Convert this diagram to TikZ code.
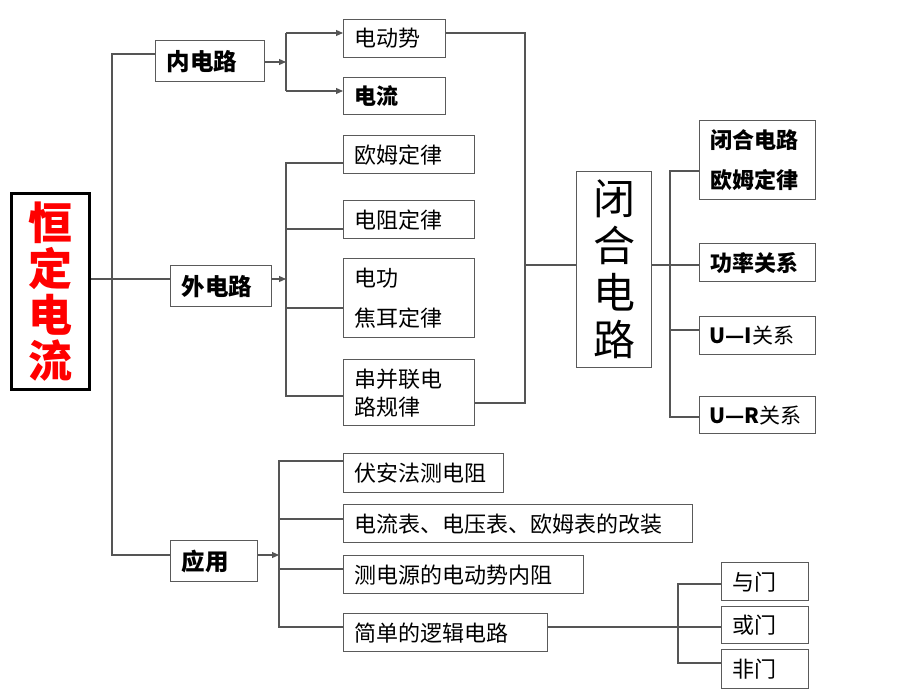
\documentclass[tikz,border=0pt]{standalone}
\usepackage{fontspec}
\setmainfont{Noto Sans CJK SC}
\usetikzlibrary{arrows.meta}
\definecolor{boxgray}{HTML}{5A5A5A}
\definecolor{linegray}{HTML}{555555}
\definecolor{titlered}{HTML}{FF0000}
\begin{document}
\begin{tikzpicture}[x=1pt,y=-1pt,
  box/.style={draw=boxgray, line width=1.3pt, anchor=north west, inner xsep=11pt, inner ysep=0pt, align=left, font=\fontsize{22}{26}\selectfont},
  ln/.style={draw=linegray, line width=1.1pt},
  arr/.style={ln, -{Triangle[length=7pt,width=6pt]}}]
\useasboundingbox (0,0) rectangle (920,690);

% main title box
\node[draw=black, line width=3pt, anchor=north west, minimum width=78pt, minimum height=196pt, inner sep=0pt, align=center, text=titlered, font=\fontsize{44}{46}\selectfont\bfseries] (main) at (10,192) {恒\\定\\电\\流};

% level 1
\node[box, minimum width=109pt, minimum height=41pt, text width=87pt, font=\fontsize{23.5}{26}\selectfont\bfseries] (nei) at (155,40) {内电路};
\node[box, minimum width=101pt, minimum height=41pt, text width=79pt, font=\fontsize{23.5}{26}\selectfont\bfseries] (wai) at (170,265) {外电路};
\node[box, minimum width=87pt, minimum height=41pt, text width=65pt, font=\fontsize{23.5}{26}\selectfont\bfseries] (ying) at (170,540) {应用};

% inner circuit
\node[box, minimum width=102pt, minimum height=38pt, text width=80pt] (ddh) at (343,19) {电动势};
\node[box, minimum width=102pt, minimum height=37pt, text width=80pt, font=\fontsize{22}{26}\selectfont\bfseries] (dl) at (343,77) {电流};

% outer circuit
\node[box, minimum width=131pt, minimum height=38pt, text width=109pt] (om) at (343,135) {欧姆定律};
\node[box, minimum width=131pt, minimum height=38pt, text width=109pt] (dz) at (343,200) {电阻定律};
\node[box, minimum width=131pt, minimum height=79pt, text width=109pt, font=\fontsize{22}{40}\selectfont] (dg) at (343,258) {电功\\焦耳定律};
\node[box, minimum width=131pt, minimum height=66pt, text width=109pt, font=\fontsize{22}{28}\selectfont] (cb) at (343,359) {串并联电\\路规律};

% closed circuit
\node[draw=boxgray, line width=1.3pt, anchor=north west, minimum width=75pt, minimum height=196pt, inner sep=0pt, align=center, font=\fontsize{42}{47}\selectfont] (bh) at (576,171) {闭\\合\\电\\路};

\node[box, minimum width=116pt, minimum height=79pt, text width=94pt, font=\fontsize{22}{40}\selectfont\bfseries] (bo) at (699,120) {闭合电路\\欧姆定律};
\node[box, minimum width=116pt, minimum height=38pt, text width=94pt, font=\fontsize{22}{26}\selectfont\bfseries] (gl) at (699,243) {功率关系};
\node[box, minimum width=116pt, minimum height=38pt, text width=104pt, inner xsep=6pt, font=\fontsize{21}{26}\selectfont] (ui) at (699,316) {\hspace{4pt}\mbox{\textbf{U—I}关系}};
\node[box, minimum width=116pt, minimum height=37pt, text width=104pt, inner xsep=6pt, font=\fontsize{21}{26}\selectfont] (ur) at (699,396) {\hspace{4pt}\mbox{\textbf{U—R}关系}};

% applications
\node[box, minimum width=160pt, minimum height=39pt, text width=138pt] (fa) at (343,453) {伏安法测电阻};
\node[box, minimum width=349pt, minimum height=38pt, text width=327pt] (dlb) at (343,504) {电流表、电压表、欧姆表的改装};
\node[box, minimum width=240pt, minimum height=38pt, text width=218pt] (cd) at (343,555) {测电源的电动势内阻};
\node[box, minimum width=204pt, minimum height=38pt, text width=182pt] (jd) at (343,613) {简单的逻辑电路};

\node[box, minimum width=87pt, minimum height=38pt, text width=65pt] (ym) at (721,562) {与门};
\node[box, minimum width=87pt, minimum height=37pt, text width=65pt] (hm) at (721,606) {或门};
\node[box, minimum width=87pt, minimum height=39pt, text width=65pt] (fm) at (721,649) {非门};

% junction coordinates
\coordinate (tn) at (112,54);
\coordinate (tw) at (112,279);
\coordinate (ty) at (112,555);
\coordinate (bn) at (286,62);
\coordinate (bn1) at (286,33);
\coordinate (bn2) at (286,91);
\coordinate (bw) at (286,279);
\coordinate (bw1) at (286,163);
\coordinate (bw2) at (286,229);
\coordinate (bw3) at (286,308);
\coordinate (bw4) at (286,396);
\coordinate (rb1) at (525,33);
\coordinate (rb2) at (525,403);
\coordinate (rbm) at (525,265);
\coordinate (cj) at (670,265);
\coordinate (cj1) at (670,171);
\coordinate (cj3) at (670,330);
\coordinate (cj4) at (670,417);
\coordinate (ay) at (279,555);
\coordinate (ay1) at (279,461);
\coordinate (ay2) at (279,519);
\coordinate (ay3) at (279,569);
\coordinate (ay4) at (279,627);
\coordinate (lg) at (678,627);
\coordinate (lg1) at (678,584);
\coordinate (lg3) at (678,663);

% trunk
\draw[ln] (main.east |- tw) -- (wai.west |- tw);
\draw[ln] (nei.west |- tn) -- (tn) -- (ty) -- (ying.west |- ty);

% inner circuit branch
\draw[arr] (nei.east |- bn) -- (bn);
\draw[ln] (bn1) -- (bn2);
\draw[arr] (bn1) -- (ddh.west |- bn1);
\draw[arr] (bn2) -- (dl.west |- bn2);

% outer circuit branch
\draw[arr] (wai.east |- bw) -- (bw);
\draw[ln] (om.west |- bw1) -- (bw1) -- (bw4) -- (cb.west |- bw4);
\draw[ln] (bw2) -- (dz.west |- bw2);
\draw[ln] (bw3) -- (dg.west |- bw3);

% right bracket into closed circuit
\draw[ln] (ddh.east |- rb1) -- (rb1) -- (rb2) -- (cb.east |- rb2);
\draw[ln] (rbm) -- (bh.west |- rbm);

% closed circuit branches
\draw[ln] (bh.east |- cj) -- (gl.west |- cj);
\draw[ln] (bo.west |- cj1) -- (cj1) -- (cj4) -- (ur.west |- cj4);
\draw[ln] (cj3) -- (ui.west |- cj3);

% applications
\draw[arr] (ying.east |- ay) -- (ay);
\draw[ln] (fa.west |- ay1) -- (ay1) -- (ay4) -- (jd.west |- ay4);
\draw[ln] (ay2) -- (dlb.west |- ay2);
\draw[ln] (ay3) -- (cd.west |- ay3);

% logic gates
\draw[ln] (jd.east |- lg) -- (hm.west |- lg);
\draw[ln] (ym.west |- lg1) -- (lg1) -- (lg3) -- (fm.west |- lg3);
\end{tikzpicture}
\end{document}
